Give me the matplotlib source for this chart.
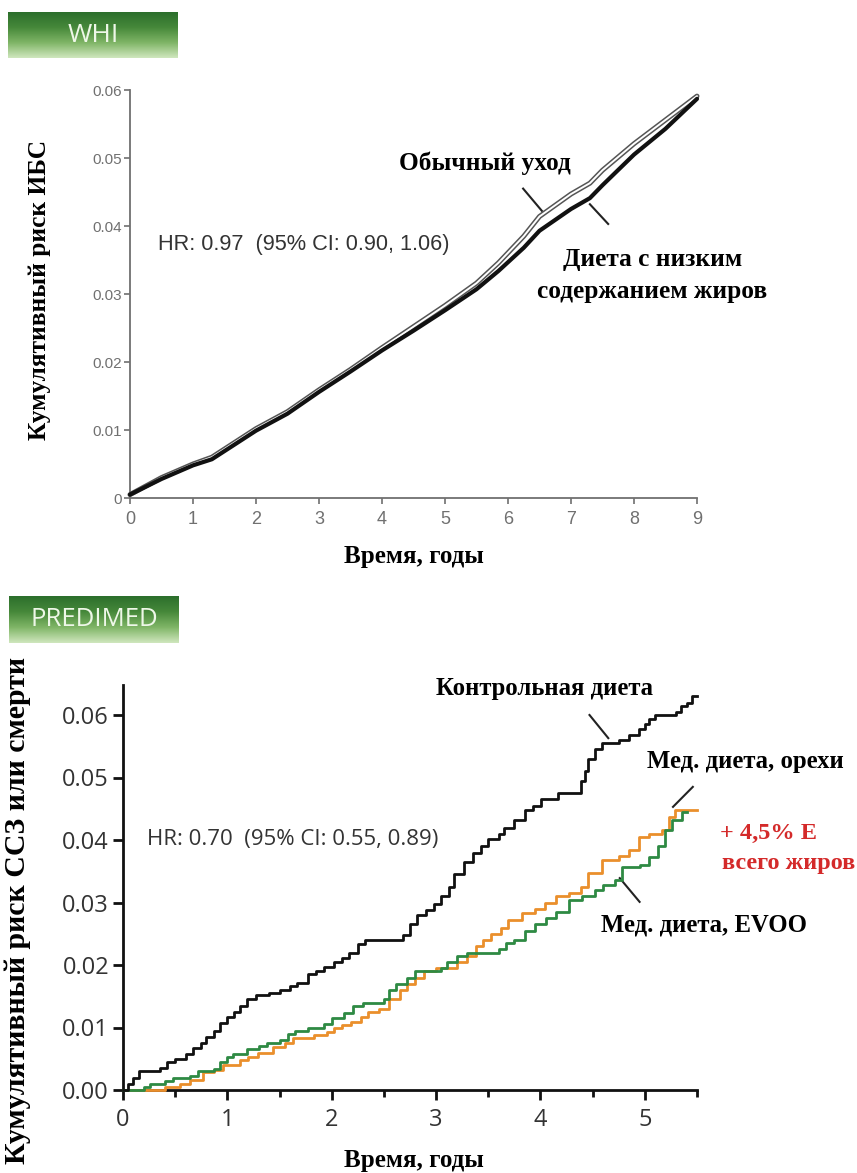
import matplotlib
matplotlib.use("Agg")
import matplotlib.pyplot as plt
import numpy as np
from matplotlib.colors import LinearSegmentedColormap

# ---------------- data ----------------
# WHI (top)
whi_t = [0, 0.5, 1, 1.3, 2, 2.5, 3, 3.5, 4, 4.5, 5, 5.5, 5.85, 6.25, 6.5, 7, 7.3, 7.5, 8, 8.5, 9]
whi_usual = [0.0005, 0.003, 0.005, 0.006, 0.0102, 0.0127, 0.0159, 0.0189, 0.0221, 0.0252,
             0.0283, 0.0316, 0.0346, 0.0385, 0.0414, 0.0447, 0.0463, 0.0482, 0.0521, 0.0556, 0.0591]
whi_lowfat = [0.0005, 0.0028, 0.0048, 0.0057, 0.0099, 0.0124, 0.0156, 0.0186, 0.0217, 0.0246,
              0.0276, 0.0307, 0.0334, 0.0368, 0.0393, 0.0425, 0.0441, 0.0460, 0.0505, 0.0543, 0.0587]
whi_xticks = [0, 1, 2, 3, 4, 5, 6, 7, 8, 9]
whi_yticks = [0, 0.01, 0.02, 0.03, 0.04, 0.05, 0.06]
whi_ylabels = ["0", "0.01", "0.02", "0.03", "0.04", "0.05", "0.06"]

# PREDIMED (bottom)
ctrl_t = [0, 0.05, 0.1, 0.15, 0.35, 0.42, 0.5, 0.6, 0.67, 0.75, 0.8, 0.87, 0.93, 1.0, 1.06,
          1.12, 1.19, 1.27, 1.4, 1.5, 1.6, 1.67, 1.77, 1.85, 1.93, 2.02, 2.1, 2.17, 2.25, 2.32,
          2.68, 2.75, 2.82, 2.9, 2.98, 3.05, 3.12, 3.17, 3.27, 3.35, 3.43, 3.5, 3.6, 3.65, 3.75,
          3.85, 3.93, 4.01, 4.17, 4.39, 4.43, 4.46, 4.52, 4.59, 4.75, 4.85, 4.94, 5.0, 5.04, 5.1,
          5.3, 5.35, 5.4, 5.45, 5.5]
ctrl_y = [0, 0.001, 0.002, 0.003, 0.0035, 0.0045, 0.005, 0.0058, 0.0067, 0.0075, 0.0085, 0.0095,
          0.0107, 0.0117, 0.0125, 0.0135, 0.0145, 0.0152, 0.0156, 0.016, 0.0166, 0.0172, 0.0185,
          0.019, 0.0197, 0.0205, 0.0212, 0.022, 0.0233, 0.024, 0.0248, 0.0265, 0.028, 0.0288,
          0.0297, 0.031, 0.0325, 0.0345, 0.0365, 0.038, 0.039, 0.0402, 0.041, 0.042, 0.0432,
          0.0448, 0.0455, 0.0465, 0.0475, 0.0495, 0.051, 0.053, 0.0545, 0.0555, 0.056, 0.0568,
          0.0577, 0.0585, 0.0593, 0.060, 0.0605, 0.0615, 0.062, 0.063, 0.063]

evoo_t = [0, 0.2, 0.26, 0.4, 0.48, 0.64, 0.72, 0.87, 0.93, 1.0, 1.05, 1.19, 1.3, 1.38, 1.5, 1.58,
          1.65, 1.77, 1.93, 2.0, 2.12, 2.2, 2.3, 2.5, 2.55, 2.62, 2.72, 2.8, 3.05, 3.1, 3.2, 3.3,
          3.6, 3.67, 3.75, 3.85, 3.95, 4.05, 4.15, 4.27, 4.4, 4.52, 4.6, 4.71, 4.78, 4.95, 5.04,
          5.13, 5.19, 5.26, 5.36, 5.4]
evoo_y = [0, 0.0005, 0.001, 0.0015, 0.002, 0.0023, 0.003, 0.0033, 0.0045, 0.0053, 0.0058, 0.0065,
          0.007, 0.0075, 0.008, 0.009, 0.0095, 0.010, 0.0105, 0.0115, 0.0123, 0.0135, 0.014,
          0.0145, 0.016, 0.017, 0.018, 0.019, 0.0195, 0.0205, 0.0215, 0.022, 0.0225, 0.0235,
          0.024, 0.0255, 0.0265, 0.0275, 0.0285, 0.0304, 0.031, 0.032, 0.0328, 0.0336, 0.0357,
          0.036, 0.0373, 0.039, 0.0416, 0.0432, 0.0445, 0.0445]

nuts_t = [0, 0.4, 0.55, 0.64, 0.77, 0.87, 0.96, 1.12, 1.2, 1.29, 1.44, 1.55, 1.63, 1.83, 1.95,
          2.02, 2.1, 2.18, 2.28, 2.35, 2.45, 2.55, 2.65, 2.72, 2.8, 2.88, 3.0, 3.2, 3.3, 3.38,
          3.45, 3.53, 3.62, 3.69, 3.82, 3.95, 4.04, 4.15, 4.27, 4.39, 4.46, 4.59, 4.75, 4.85,
          4.94, 5.04, 5.16, 5.23, 5.29, 5.5]
nuts_y = [0, 0.0005, 0.001, 0.0016, 0.0029, 0.0032, 0.004, 0.0048, 0.0053, 0.0059, 0.0069,
          0.0076, 0.0083, 0.0088, 0.0093, 0.0099, 0.0104, 0.0109, 0.0117, 0.0125, 0.013, 0.0145,
          0.016, 0.017, 0.018, 0.019, 0.0195, 0.0205, 0.0215, 0.023, 0.024, 0.025, 0.026, 0.0272,
          0.0283, 0.029, 0.030, 0.031, 0.0315, 0.0325, 0.0347, 0.0368, 0.0375, 0.0384, 0.0405,
          0.041, 0.0416, 0.0437, 0.0448, 0.0448]

pr_xticks = [0, 1, 2, 3, 4, 5]
pr_xminor = [0.5, 1.5, 2.5, 3.5, 4.5, 5.5]
pr_yticks = [0.00, 0.01, 0.02, 0.03, 0.04, 0.05, 0.06]
pr_ylabels = ["0.00", "0.01", "0.02", "0.03", "0.04", "0.05", "0.06"]

SERIF = "Liberation Serif"
W, H = 857, 1173
fig = plt.figure(figsize=(W / 100, H / 100), dpi=100)
fig.patch.set_facecolor("white")


def fx(px):
    return px / W


def fy(py):
    return 1 - py / H


# ---------------- header boxes ----------------
grad_cmap = LinearSegmentedColormap.from_list(
    "g", ["#2c6f2c", "#46883a", "#7fb566", "#cfe6bd"])


def header(x0, y0, x1, y1, label, size):
    hax = fig.add_axes([fx(x0), fy(y1), fx(x1 - x0), (y1 - y0) / H])
    grad = np.linspace(0, 1, 100).reshape(-1, 1)
    hax.imshow(grad, aspect="auto", cmap=grad_cmap, extent=[0, 1, 0, 1], origin="upper")
    hax.set_axis_off()
    hax.text(0.5, 0.5, label, color="#eef7e8", fontsize=size, family="Open Sans",
             ha="center", va="center", transform=hax.transAxes)


header(8, 12, 178, 58, "WHI", 19)
header(9, 596, 179, 643, "PREDIMED", 18.5)

# ---------------- top panel (WHI) ----------------
ax1 = fig.add_axes([fx(130), fy(498), fx(697 - 130), (498 - 90) / H])
ax1.plot(whi_t, whi_usual, color="#555555", lw=3.6, solid_capstyle="round", clip_on=False, zorder=3)
ax1.plot(whi_t, whi_usual, color="white", lw=1.4, solid_capstyle="round", clip_on=False, zorder=4)
ax1.plot(whi_t, whi_lowfat, color="#111111", lw=3.0, solid_capstyle="round", clip_on=False, zorder=5)
ax1.set_xlim(0, 9)
ax1.set_ylim(0, 0.06)
for s in ["top", "right"]:
    ax1.spines[s].set_visible(False)
for s in ["left", "bottom"]:
    ax1.spines[s].set_color("#707070")
    ax1.spines[s].set_linewidth(1.3)
ax1.set_xticks(whi_xticks)
ax1.set_xticklabels([str(v) for v in whi_xticks])
ax1.set_yticks(whi_yticks)
ax1.set_yticklabels(whi_ylabels)
ax1.tick_params(axis="both", direction="out", length=4, width=1.2, color="#707070",
                labelcolor="#707070")
ax1.tick_params(axis="x", labelsize=13, pad=5)
ax1.tick_params(axis="y", labelsize=11, pad=2)
for lab in ax1.get_xticklabels() + ax1.get_yticklabels():
    lab.set_family("Liberation Sans")

ax1.text(0.44, 0.0373, "HR: 0.97  (95% CI: 0.90, 1.06)", fontsize=15.7, color="#333333",
         family="Liberation Sans", ha="left", va="center")
ax1.text(5.63, 0.0493, "Обычный уход", fontsize=18.3, family=SERIF, weight="bold",
         ha="center", va="center")
ax1.text(8.29, 0.0327, "Диета с низким\nсодержанием жиров", fontsize=18.3, family=SERIF,
         weight="bold", ha="center", va="center", linespacing=1.5)
ax1.plot([6.24, 6.54], [0.0455, 0.0422], color="#222222", lw=1.5, clip_on=False)
ax1.plot([7.30, 7.59], [0.0432, 0.0403], color="#222222", lw=1.5, clip_on=False)

fig.text(fx(40), fy(290), "Кумулятивный риск ИБС", rotation=90, fontsize=18.3, family=SERIF,
         weight="bold", ha="center", va="center")
fig.text(fx(414), fy(557), "Время, годы", fontsize=18, family=SERIF, weight="bold",
         ha="center", va="center")

# ---------------- bottom panel (PREDIMED) ----------------
ax2 = fig.add_axes([fx(123), fy(1090), fx(697 - 123), (1090 - 685) / H])
ax2.step(ctrl_t, ctrl_y, where="post", color="#111111", lw=2.0, clip_on=False, zorder=4)
ax2.step(nuts_t, nuts_y, where="post", color="#ea8f2c", lw=2.0, clip_on=False, zorder=3)
ax2.step(evoo_t, evoo_y, where="post", color="#2e8a43", lw=2.0, clip_on=False, zorder=3)
ax2.set_xlim(0, 5.5)
ax2.set_ylim(0, 0.0648)
for s in ["top", "right"]:
    ax2.spines[s].set_visible(False)
for s in ["left", "bottom"]:
    ax2.spines[s].set_color("#111111")
    ax2.spines[s].set_linewidth(2.0)
ax2.set_xticks(pr_xticks)
ax2.set_xticklabels([str(v) for v in pr_xticks])
ax2.set_xticks(pr_xminor, minor=True)
ax2.set_yticks(pr_yticks)
ax2.set_yticklabels(pr_ylabels)
ax2.tick_params(axis="both", which="major", direction="out", length=7, width=2.0,
                color="#111111", labelcolor="#333333", labelsize=17)
ax2.tick_params(axis="x", which="minor", direction="out", length=5, width=2.0, color="#111111")
ax2.tick_params(axis="x", which="major", pad=6)
ax2.tick_params(axis="y", which="major", pad=3)
for lab in ax2.get_xticklabels() + ax2.get_yticklabels():
    lab.set_family("Open Sans")

ax2.text(0.23, 0.0400, "HR: 0.70  (95% CI: 0.55, 0.89)", fontsize=16, color="#333333",
         family="Open Sans", ha="left", va="center")
ax2.text(4.04, 0.0643, "Контрольная диета", fontsize=17.8, family=SERIF, weight="bold",
         ha="center", va="center")
ax2.plot([4.47, 4.65], [0.0600, 0.0563], color="#222222", lw=1.5, clip_on=False)
ax2.text(5.96, 0.0525, "Мед. диета, орехи", fontsize=17.8, family=SERIF, weight="bold",
         ha="center", va="center")
ax2.plot([5.46, 5.27], [0.0485, 0.0453], color="#222222", lw=1.5, clip_on=False)
ax2.text(5.57, 0.0264, "Мед. диета, EVOO", fontsize=17.8, family=SERIF, weight="bold",
         ha="center", va="center")
ax2.plot([4.76, 4.95], [0.0339, 0.0301], color="#222222", lw=1.5, clip_on=False)
ax2.text(5.72, 0.0411, "+ 4,5% E", fontsize=17.5, family=SERIF, weight="bold",
         color="#d42a2a", ha="left", va="center")
ax2.text(5.74, 0.0363, "всего жиров", fontsize=17.5, family=SERIF, weight="bold",
         color="#d42a2a", ha="left", va="center")

fig.text(fx(18), fy(910), "Кумулятивный риск ССЗ или смерти", rotation=90, fontsize=21.5,
         family=SERIF, weight="bold", ha="center", va="center")
fig.text(fx(414), fy(1160), "Время, годы", fontsize=18, family=SERIF, weight="bold",
         ha="center", va="center")

fig.savefig("out.png", dpi=100, facecolor="white")
